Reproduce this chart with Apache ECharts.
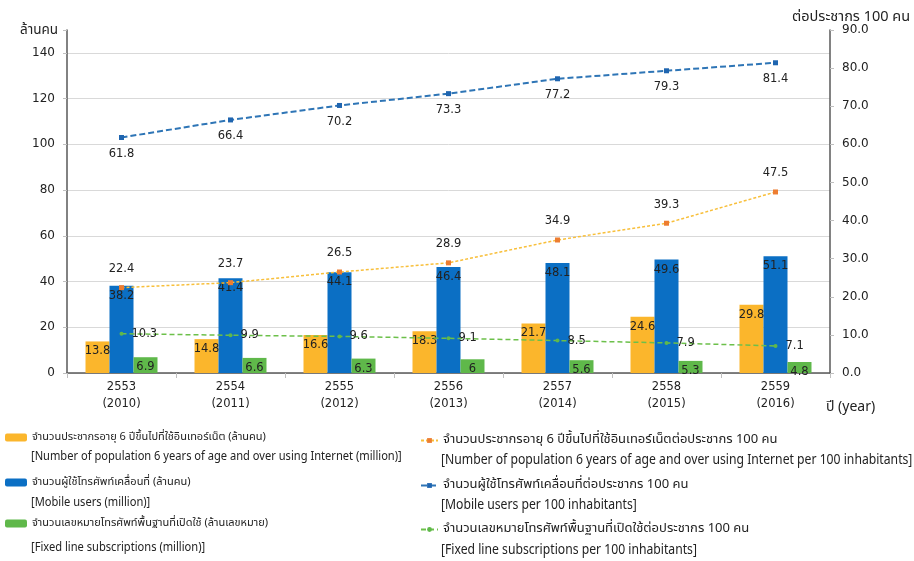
<!DOCTYPE html>
<html>
<head>
<meta charset="utf-8">
<script src="https://cdn.jsdelivr.net/npm/echarts@6/dist/echarts.min.js"></script>
<style>
  html, body { margin: 0; padding: 0; background: #fff; }
  #chart { width: 914px; height: 561px; }
</style>
</head>
<body>
<div id="chart"></div>
<script>
// Years (Buddhist era with Gregorian year below)
const years = ['2553\n(2010)', '2554\n(2011)', '2555\n(2012)', '2556\n(2013)', '2557\n(2014)', '2558\n(2015)', '2559\n(2016)'];

// Millions (left axis)
const internetUsers = [13.8, 14.8, 16.6, 18.3, 21.7, 24.6, 29.8];
const mobileUsers = [38.2, 41.4, 44.1, 46.4, 48.1, 49.6, 51.1];
const fixedLines = [6.9, 6.6, 6.3, 6, 5.6, 5.3, 4.8];

// Per 100 inhabitants (right axis)
const internetPer100 = [22.4, 23.7, 26.5, 28.9, 34.9, 39.3, 47.5];
const mobilePer100 = [61.8, 66.4, 70.2, 73.3, 77.2, 79.3, 81.4];
const fixedPer100 = [10.3, 9.9, 9.6, 9.1, 8.5, 7.9, 7.1];

// Series names (Thai) and English captions
const thaiNames = [
  'จำนวนประชากรอายุ 6 ปีขึ้นไปที่ใช้อินเทอร์เน็ต (ล้านคน)',
  'จำนวนผู้ใช้โทรศัพท์เคลื่อนที่ (ล้านคน)',
  'จำนวนเลขหมายโทรศัพท์พื้นฐานที่เปิดใช้ (ล้านเลขหมาย)',
  'จำนวนประชากรอายุ 6 ปีขึ้นไปที่ใช้อินเทอร์เน็ตต่อประชากร 100 คน',
  'จำนวนผู้ใช้โทรศัพท์เคลื่อนที่ต่อประชากร 100 คน',
  'จำนวนเลขหมายโทรศัพท์พื้นฐานที่เปิดใช้ต่อประชากร 100 คน'
];
const englishNames = [
  '[Number of population 6 years of age and over using Internet (million)]',
  '[Mobile users (million)]',
  '[Fixed line subscriptions (million)]',
  '[Number of population 6 years of age and over using Internet per 100 inhabitants]',
  '[Mobile users per 100 inhabitants]',
  '[Fixed line subscriptions per 100 inhabitants]'
];

const axisFont = 'DejaVu Sans, Verdana, sans-serif';
const legendFont = 'Noto Sans Thai, Tahoma, sans-serif';
const textColor = '#222';

const chart = echarts.init(document.getElementById('chart'), null, { renderer: 'canvas' });

// Legend rows: Thai caption next to the swatch, English caption on the line below
const legendPos = [
  { left: 5, top: 432 }, { left: 5, top: 477 }, { left: 5, top: 518 },
  { left: 420, top: 434 }, { left: 420, top: 479 }, { left: 420, top: 523 }
];
const englishPos = [
  [31, 457], [31, 503], [31, 548],
  [441, 461], [441, 506], [441, 551]
];

const legends = thaiNames.map((name, i) => ({
  data: [name],
  left: legendPos[i].left,
  top: legendPos[i].top,
  padding: 0,
  orient: 'vertical',
  itemWidth: i < 3 ? 22 : 17,
  itemHeight: i < 3 ? 8 : 6,
  itemGap: 0,
  selectedMode: false,
  textStyle: { fontFamily: legendFont, fontSize: i < 3 ? 11 : 13, color: textColor }
}));

const graphics = englishNames.map((txt, i) => ({
  type: 'text',
  x: englishPos[i][0],
  y: englishPos[i][1],
  scaleX: i < 3 ? 0.855 : 0.87,
  style: {
    text: txt, fontFamily: legendFont, fontSize: i < 3 ? 13 : 14, fill: textColor,
    align: 'left', verticalAlign: 'middle'
  }
}));
graphics.push(
  { type: 'text', x: 20, y: 31, style: { text: 'ล้านคน', fontFamily: legendFont, fontSize: 13.5, fill: textColor, verticalAlign: 'middle' } },
  { type: 'text', x: 792, y: 18, style: { text: 'ต่อประชากร 100 คน', fontFamily: legendFont, fontSize: 14.5, fill: textColor, verticalAlign: 'middle' } },
  { type: 'text', x: 826, y: 408, style: { text: 'ปี (year)', fontFamily: legendFont, fontSize: 14, fill: textColor, verticalAlign: 'middle' } }
);

const barLabel = {
  show: true,
  position: 'insideTop',
  distance: 4,
  fontFamily: axisFont,
  fontSize: 11.5,
  color: textColor
};

chart.setOption({
  backgroundColor: '#fff',
  animation: false,
  grid: { left: 67, right: 84, top: 30, bottom: 188 },
  legend: legends,
  graphic: graphics,
  xAxis: {
    type: 'category',
    data: years,
    axisLine: { lineStyle: { color: '#595959', width: 1.5 } },
    axisTick: { show: true, length: 5, lineStyle: { color: '#bfbfbf' } },
    axisLabel: { fontFamily: axisFont, fontSize: 11.5, color: textColor, lineHeight: 17, margin: 6 }
  },
  yAxis: [
    {
      type: 'value',
      min: 0, max: 150, interval: 20,
      axisLine: { show: true, lineStyle: { color: '#595959', width: 1.5 } },
      axisTick: { show: true, length: 4, lineStyle: { color: '#bfbfbf' } },
      axisLabel: {
        fontFamily: axisFont, fontSize: 12, color: textColor, margin: 12,
        formatter: v => (v > 140 ? '' : String(v))
      },
      splitLine: { show: true, showMaxLine: false, lineStyle: { color: '#d9d9d9' } }
    },
    {
      type: 'value',
      min: 0, max: 90, interval: 10,
      position: 'right',
      axisLine: { show: true, lineStyle: { color: '#595959', width: 1.5 } },
      axisTick: { show: true, length: 4, lineStyle: { color: '#bfbfbf' } },
      axisLabel: {
        fontFamily: axisFont, fontSize: 12, color: textColor, margin: 12,
        formatter: v => v.toFixed(1)
      },
      splitLine: { show: false }
    }
  ],
  series: [
    {
      name: thaiNames[0], type: 'bar', yAxisIndex: 0,
      data: internetUsers, barWidth: 24, barGap: '0%',
      itemStyle: { color: '#FBB62C' }, label: barLabel, z: 2
    },
    {
      name: thaiNames[1], type: 'bar', yAxisIndex: 0,
      data: mobileUsers, barWidth: 24, barGap: '0%',
      itemStyle: { color: '#0B6FC4' }, label: barLabel, z: 2
    },
    {
      name: thaiNames[2], type: 'bar', yAxisIndex: 0,
      data: fixedLines, barWidth: 24, barGap: '0%',
      itemStyle: { color: '#5FB84A' }, label: barLabel, z: 2
    },
    {
      name: thaiNames[3], type: 'line', yAxisIndex: 1,
      data: internetPer100,
      symbol: 'rect', symbolSize: 5,
      itemStyle: { color: '#ED7D31' },
      lineStyle: { color: '#F8BF3A', width: 1.5, type: [3, 2] },
      label: { show: true, position: 'top', distance: 10, fontFamily: axisFont, fontSize: 11.5, color: textColor },
      z: 5
    },
    {
      name: thaiNames[4], type: 'line', yAxisIndex: 1,
      data: mobilePer100,
      symbol: 'rect', symbolSize: 5,
      itemStyle: { color: '#1F65B0' },
      lineStyle: { color: '#2E75B6', width: 2, type: [6, 3] },
      label: { show: true, position: 'bottom', distance: 8, fontFamily: axisFont, fontSize: 11.5, color: textColor },
      z: 5
    },
    {
      name: thaiNames[5], type: 'line', yAxisIndex: 1,
      data: fixedPer100,
      symbol: 'circle', symbolSize: 4,
      itemStyle: { color: '#5FB84A' },
      lineStyle: { color: '#6CC04A', width: 1.5, type: [5, 3] },
      label: { show: true, position: 'right', distance: 8, fontFamily: axisFont, fontSize: 11.5, color: textColor },
      z: 5
    }
  ]
});
</script>
</body>
</html>
